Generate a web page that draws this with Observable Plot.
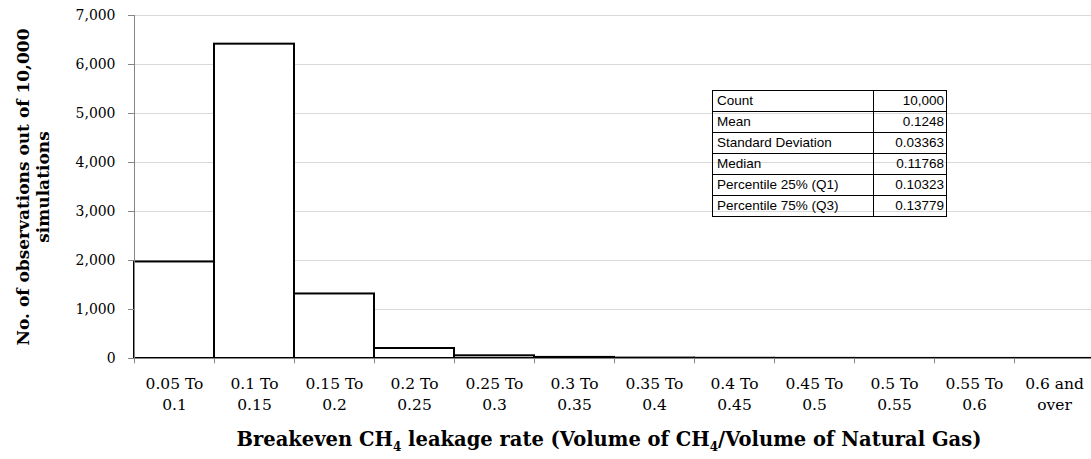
<div id="wrap">
  <div id="chart"></div>
  <div id="xtitle">Breakeven CH<sub>4</sub> leakage rate (Volume of CH<sub>4</sub>/Volume of Natural Gas)</div>
  <table id="stats"></table>
</div>

<script src="https://cdn.jsdelivr.net/npm/d3@7"></script>
<script src="https://cdn.jsdelivr.net/npm/@observablehq/plot@0.6"></script>
<script>
  // histogram bins and counts
  const binLabels = ["0.05 To\n0.1", "0.1 To\n0.15", "0.15 To\n0.2", "0.2 To\n0.25", "0.25 To\n0.3", "0.3 To\n0.35",
    "0.35 To\n0.4", "0.4 To\n0.45", "0.45 To\n0.5", "0.5 To\n0.55", "0.55 To\n0.6", "0.6 and\nover"]
  const counts = [1970, 6415, 1317, 204, 55, 22, 8, 4, 2, 1, 1, 1]
  const yTicks = [0, 1000, 2000, 3000, 4000, 5000, 6000, 7000]

  // summary table
  const statNames = ["Count", "Mean", "Standard Deviation", "Median", "Percentile 25% (Q1)", "Percentile 75% (Q3)"]
  const statValues = ["10,000", "0.1248", "0.03363", "0.11768", "0.10323", "0.13779"]

  const data = binLabels.map((bin, i) => ({bin, count: counts[i]}))

  const chart = Plot.plot({
    width: 1091,
    height: 420,
    marginTop: 15,
    marginLeft: 134,
    marginRight: 0,
    marginBottom: 62,
    x: {domain: binLabels, range: [134, 1094], padding: 0},
    y: {domain: [0, 7000]},
    style: {fontFamily: "DejaVu Serif", fontSize: "15px", background: "white", color: "black", overflow: "visible"},
    marks: [
      Plot.gridY(yTicks, {stroke: "#d9d9d9", strokeOpacity: 1}),
      Plot.barY(data, {x: "bin", y: "count", fill: "white", stroke: "black", strokeWidth: 2}),
      Plot.ruleY([0], {stroke: "#868686"}),
      Plot.frame({anchor: "left", stroke: "#868686"}),
      Plot.ruleX(binLabels, {x: d => d, dx: -40, y1: 0, y2: -110, stroke: "#868686"}),
      Plot.axisY(yTicks, {tickSize: 6, tickPadding: 13, tickFormat: d3.format(","), stroke: "#868686", fill: "black",
        fontFamily: "DejaVu Serif Condensed, DejaVu Serif", fontSize: 15.5, label: null}),
      Plot.axisX({tickSize: 0, tickPadding: 16, lineHeight: 1.35, fontSize: 15.5, fill: "black", label: null}),
      Plot.text(["No. of observations out of 10,000\nsimulations"], {
        frameAnchor: "left", rotate: -90, dx: -102, textAnchor: "middle",
        fontWeight: "bold", fontSize: 17, lineHeight: 1.2
      })
    ]
  })
  document.querySelector("#chart").append(chart)

  const table = document.querySelector("#stats")
  statNames.forEach((name, i) => {
    const tr = table.insertRow()
    tr.insertCell().textContent = name
    tr.insertCell().textContent = statValues[i]
  })
</script>
<style>
  body {
    padding: 0;
    margin: 0;
    background: white;
    overflow: hidden;
  }
  #wrap {
    position: relative;
    width: 1091px;
    height: 459px;
  }
  #xtitle {
    position: absolute;
    left: 109px;
    width: 1000px;
    top: 428px;
    text-align: center;
    font-family: "DejaVu Serif";
    font-weight: bold;
    font-size: 19.5px;
    white-space: nowrap;
  }
  #xtitle sub {
    font-size: 12px;
    line-height: 0;
  }
  #stats {
    position: absolute;
    left: 712px;
    top: 90px;
    border-collapse: collapse;
    font-family: "Liberation Sans", Arial;
    font-size: 13.5px;
  }
  #stats td {
    border: 1px solid black;
    padding: 0 2px 0 4px;
    height: 20px;
    line-height: 20px;
  }
  #stats td:first-child {
    width: 154px;
  }
  #stats td:last-child {
    width: 66px;
    text-align: right;
  }
</style>
